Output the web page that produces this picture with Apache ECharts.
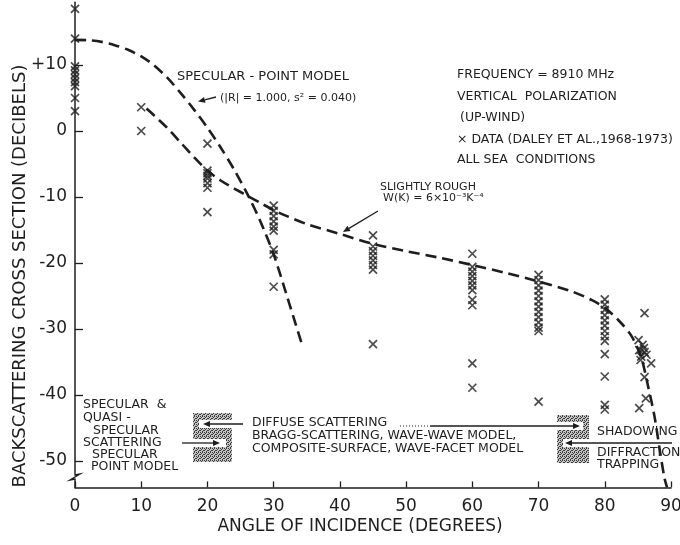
<!DOCTYPE html>
<html><head><meta charset="utf-8">
<script src="https://cdn.jsdelivr.net/npm/echarts@6/dist/echarts.min.js"></script>
<style>html,body{margin:0;padding:0;background:#fff}#c{width:680px;height:545px}</style>
</head><body><div id="c"></div>
<script>
// ---- data ----
const xTicks = [0, 10, 20, 30, 40, 50, 60, 70, 80, 90];
const yTicks = [-50, -40, -30, -20, -10, 0, 10];

const angle0Db  = [18.5, 14.0, 9.8, 9.2, 8.6, 8.0, 7.4, 6.8, 5.0, 3.0];
const angle10Db = [3.6, 0.0];
const angle20Db = [-1.9, -6.0, -6.4, -6.8, -7.2, -7.9, -8.6, -12.3];
const angle30Db = [-11.3, -12.1, -12.9, -13.7, -14.5, -15.1, -18.0, -18.7, -23.6];
const angle45Db = [-15.8, -17.5, -18.2, -18.9, -19.6, -20.3, -21.0, -32.3];
const angle60Db = [-18.6, -20.6, -21.3, -22.0, -22.7, -23.4, -24.1, -25.6, -26.4, -35.2, -38.9];
const angle70Db = [-21.8, -22.6, -23.4, -24.2, -25.0, -25.8, -26.6, -27.4, -28.2, -29.0, -29.8, -30.3, -41.0];
const angle80Db = [-25.5, -26.3, -27.1, -27.9, -28.7, -29.5, -30.3, -31.1, -31.8, -33.8, -37.2, -41.5, -42.2];
const grazingAngle = [86.0, 85.1, 85.7, 85.2, 86.0, 85.5, 86.3, 85.4, 85.9, 87.0, 86.0, 86.2, 85.2];
const grazingDb    = [-27.6, -31.7, -32.4, -33.2, -33.5, -34.2, -33.9, -34.7, -32.9, -35.2, -37.3, -40.5, -42.0];

const specAngle = [0, 2, 4, 6, 8, 10, 12, 14, 16, 18, 20, 22, 24, 26, 28, 30, 32, 34.2];
const specDb    = [13.8, 13.75, 13.5, 13.0, 12.3, 11.3, 9.9, 8.0, 5.7, 3.2, 0.5, -2.5, -5.8, -9.5, -13.7, -18.7, -25.0, -32.1];

const roughAngle = [10.8, 12, 14, 16, 18, 20, 22, 24, 26, 28, 30, 32, 35, 40, 45, 50, 55, 60, 65, 70, 75, 78, 80, 82, 84, 85.5, 86.5, 87.5, 88.3, 89, 89.4];
const roughDb    = [3.4, 2.3, 0.4, -1.8, -4.0, -6.0, -7.5, -8.7, -9.8, -10.9, -12.0, -12.9, -14.1, -15.6, -17.1, -18.2, -19.2, -20.3, -21.5, -22.8, -24.3, -25.6, -26.8, -28.6, -31.0, -34.3, -38.5, -43.2, -48.3, -52.5, -54.0];

// ---- build ----
const groups = [[0, angle0Db], [10, angle10Db], [20, angle20Db], [30, angle30Db], [45, angle45Db],
                [60, angle60Db], [70, angle70Db], [80, angle80Db]];
const scatterData = [];
groups.forEach(([a, arr]) => arr.forEach(v => scatterData.push([a, v])));
grazingAngle.forEach((a, i) => scatterData.push([a, grazingDb[i]]));

const INK = '#1e1e1e';
const FF = '"DejaVu Sans", sans-serif';

// hatch pattern
const pc = document.createElement('canvas'); pc.width = 4; pc.height = 4;
const g = pc.getContext('2d');
g.fillStyle = '#c4c4c4'; g.fillRect(0, 0, 4, 4);
g.fillStyle = '#3a3a3a';
[[0,0],[2,0],[1,1],[3,2],[0,2],[2,3]].forEach(p => g.fillRect(p[0], p[1], 1, 1));
const hatch = { image: pc, repeat: 'repeat' };

function txt(s, x, y, size, extra) {
  return Object.assign({ type: 'text', x: x, y: y, z: 50,
    style: { text: s, font: size + 'px ' + FF, fill: INK, align: 'left', verticalAlign: 'middle' } }, extra || {});
}
function arrow(x1, y1, x2, y2) {
  const ang = Math.atan2(y2 - y1, x2 - x1), L = 7, W = 3;
  const bx = x2 - L * Math.cos(ang), by = y2 - L * Math.sin(ang);
  const px = -Math.sin(ang) * W, py = Math.cos(ang) * W;
  return [
    { type: 'line', z: 50, shape: { x1: x1, y1: y1, x2: bx, y2: by }, style: { stroke: INK, lineWidth: 1.3 } },
    { type: 'polygon', z: 50, shape: { points: [[x2, y2], [bx + px, by + py], [bx - px, by - py]] }, style: { fill: INK } }
  ];
}
function box(x, y, w, h, slots) {
  const els = [{ type: 'rect', z: 40, shape: { x: x, y: y, width: w, height: h }, style: { fill: hatch } }];
  slots.forEach(s => els.push({ type: 'rect', z: 41, shape: s, style: { fill: '#fff' } }));
  return els;
}

const graphics = [].concat(
  [{ type: 'text', x: 20, y: 276, rotation: Math.PI / 2, z: 50,
     style: { text: 'BACKSCATTERING CROSS SECTION (DECIBELS)', font: '18px ' + FF, fill: INK, align: 'center', verticalAlign: 'middle' } },
   { type: 'text', x: 360, y: 527, z: 50,
     style: { text: 'ANGLE OF INCIDENCE (DEGREES)', font: '17px ' + FF, fill: INK, align: 'center', verticalAlign: 'middle' } }],
  [txt('SPECULAR - POINT MODEL', 177, 77, 13), txt('(|R| = 1.000, s² = 0.040)', 220, 98, 11)],
  arrow(216, 97, 198, 101.5),
  [txt('FREQUENCY = 8910 MHz', 457, 75, 12.5), txt('VERTICAL  POLARIZATION', 457, 97, 12.5),
   txt('(UP-WIND)', 460, 118, 12.5), txt('× DATA (DALEY ET AL.,1968-1973)', 457, 140, 12.5),
   txt('ALL SEA  CONDITIONS', 457, 160, 12.5)],
  [txt('SLIGHTLY ROUGH', 380, 187, 11), txt('W(K) = 6×10⁻³K⁻⁴', 383, 198, 11)],
  arrow(378, 211, 343, 232),
  [txt('SPECULAR  &', 83, 405, 12.5), txt('QUASI -', 83, 418, 12.5), txt('SPECULAR', 93, 431, 12.5),
   txt('SCATTERING', 83, 443, 12.5), txt('SPECULAR', 92, 455, 12.5), txt('POINT MODEL', 91, 467, 12.5)],
  box(193, 413, 39, 49, [{ x: 199, y: 420, width: 33, height: 8 }, { x: 193, y: 439, width: 33, height: 8 }]),
  arrow(243, 424, 203, 424),
  arrow(182, 443, 220, 443),
  [txt('DIFFUSE SCATTERING', 252, 423, 12.5), txt('BRAGG-SCATTERING, WAVE-WAVE MODEL,', 252, 436, 12.5),
   txt('COMPOSITE-SURFACE, WAVE-FACET MODEL', 252, 449, 12.5)],
  [{ type: 'line', z: 50, shape: { x1: 400, y1: 426, x2: 430, y2: 426 }, style: { stroke: INK, lineWidth: 1.2, lineDash: [1, 2] } }],
  box(557, 415, 32, 48, [{ x: 557, y: 422, width: 26, height: 8 }, { x: 563, y: 439, width: 26, height: 8 }]),
  arrow(430, 426, 580, 426),
  arrow(672, 443, 565, 443),
  [txt('SHADOWING', 597, 432, 12.5), txt('DIFFRACTION', 597, 453, 12.5), txt('TRAPPING', 597, 465, 12.5)],
  [{ type: 'rect', z: 45, shape: { x: 70, y: 473, width: 11, height: 8 }, style: { fill: '#fff' } },
   { type: 'polyline', z: 50, shape: { points: [[75, 473], [75, 475], [80, 474], [70, 480], [75, 479], [75, 481]] }, style: { stroke: INK, lineWidth: 1.4, fill: null } }]
);

const chart = echarts.init(document.getElementById('c'), null, { renderer: 'canvas' });
chart.setOption({
  backgroundColor: '#fff',
  animation: false,
  grid: { left: 75, right: 9, top: 2.3, bottom: 57.6, containLabel: false, outerBoundsMode: 'none' },
  xAxis: {
    type: 'value', min: 0, max: 90, interval: 10,
    axisLine: { onZero: false, lineStyle: { color: INK, width: 1.5 } },
    axisTick: { inside: true, length: 6, lineStyle: { color: INK, width: 1.3 } },
    axisLabel: { margin: 11, fontSize: 17, fontFamily: FF, color: INK, customValues: xTicks },
    splitLine: { show: false }
  },
  yAxis: {
    type: 'value', min: -54, max: 19.5,
    axisLine: { show: true, onZero: false, lineStyle: { color: INK, width: 1.5 } },
    axisTick: { show: true, inside: true, length: 8, customValues: yTicks, lineStyle: { color: INK, width: 1.3 } },
    axisLabel: { margin: 8, fontSize: 17, fontFamily: FF, color: INK, customValues: yTicks,
                 formatter: v => (v > 0 ? '+' + v : String(v)) },
    splitLine: { show: false }
  },
  series: [
    { type: 'line', name: 'specular', data: specAngle.map((a, i) => [a, specDb[i]]),
      showSymbol: false, smooth: 0.3, clip: false,
      lineStyle: { color: INK, width: 2.6, type: [11, 6] }, z: 3 },
    { type: 'line', name: 'rough', data: roughAngle.map((a, i) => [a, roughDb[i]]),
      showSymbol: false, smooth: 0.3, clip: false,
      lineStyle: { color: INK, width: 2.6, type: [11, 6] }, z: 3 },
    { type: 'scatter', name: 'data', data: scatterData, clip: false,
      symbol: 'path://M0,0L10,10M0,10L10,0', symbolSize: 8,
      itemStyle: { color: 'none', borderColor: INK, borderWidth: 1.7 }, z: 4 }
  ],
  graphic: graphics
});
</script></body></html>
